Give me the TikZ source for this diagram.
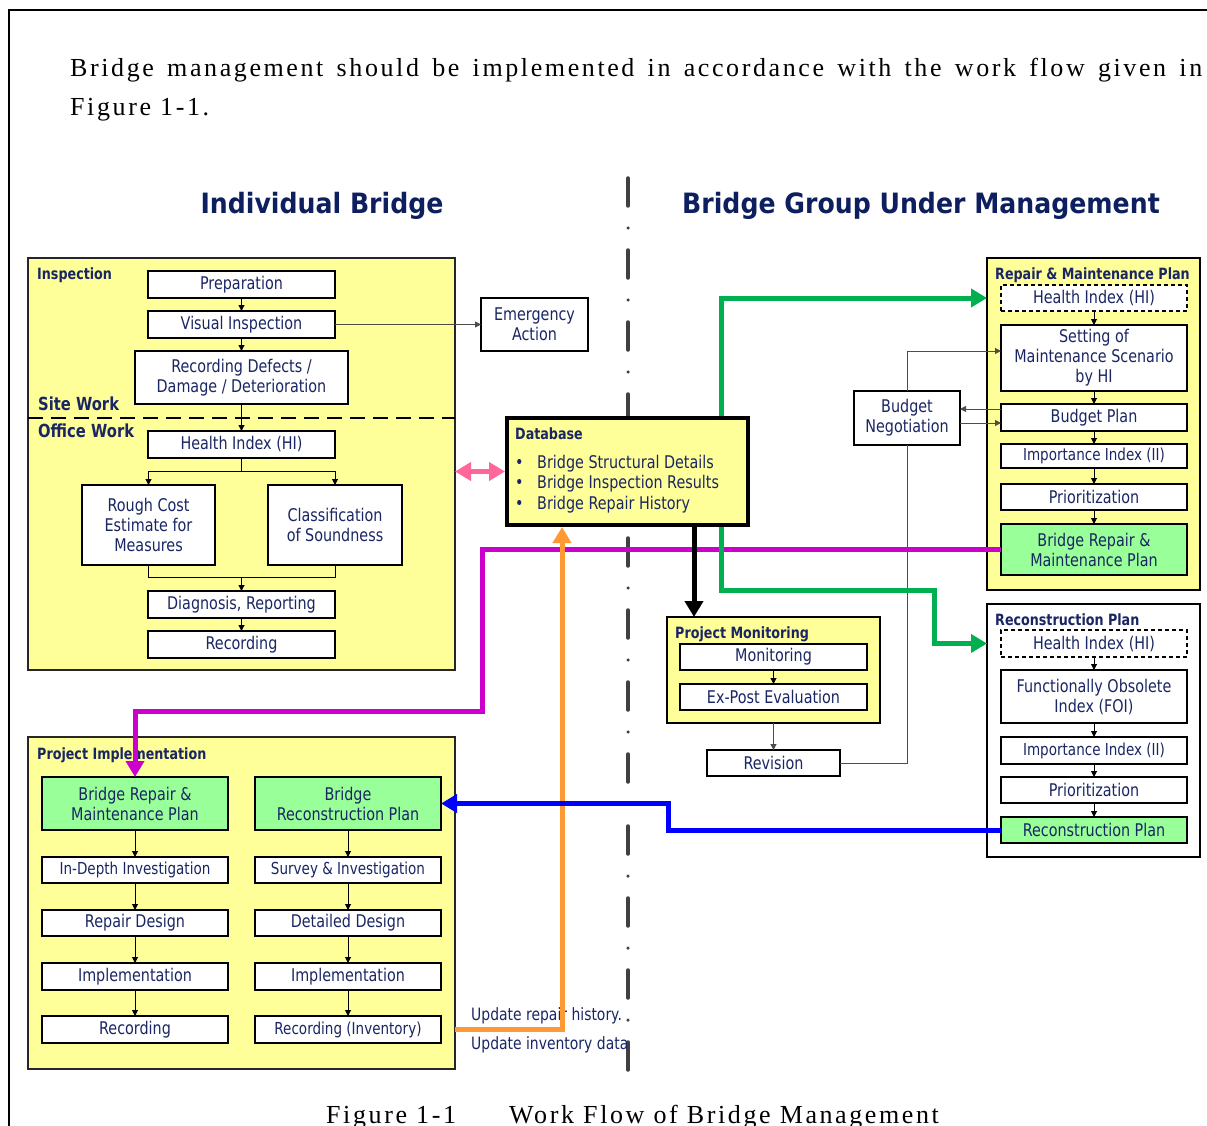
\documentclass[tikz,border=0pt]{standalone}
\usepackage{fontspec}
\setmainfont{DejaVu Sans}[FakeStretch=0.82]
\newfontfamily\capfont{Liberation Serif}[LetterSpace=10]
\newfontfamily\headfont{DejaVu Sans}[FakeStretch=0.9]
\usetikzlibrary{arrows.meta,calc}
\definecolor{navy}{HTML}{1A2664}
\definecolor{titlenavy}{HTML}{0D1F5F}
\definecolor{yellowfill}{HTML}{FFFF99}
\definecolor{greenfill}{HTML}{99FF99}
\definecolor{flowgreen}{HTML}{00B050}
\definecolor{flowmagenta}{HTML}{CC00CC}
\definecolor{floworange}{HTML}{FF9933}
\definecolor{flowpink}{HTML}{FF6699}
\definecolor{flowblue}{HTML}{0000FF}
\definecolor{axisgray}{HTML}{404040}

\begin{document}
\begin{tikzpicture}[x=1pt,y=-1pt,
  box/.style={draw=black,line width=1.2pt,fill=white,text=navy,align=center,
    inner sep=0pt,outer sep=0pt,font=\fontsize{17.5}{20}\selectfont},
  sbox/.style={box,font=\fontsize{16.5}{19}\selectfont},
  gbox/.style={box,fill=greenfill},
  dbox/.style={box,dash pattern=on 4pt off 3pt},
  block/.style={draw=black!85,line width=1.5pt,fill=yellowfill,inner sep=0pt,outer sep=0pt},
  blabel/.style={anchor=base west,inner sep=0pt,text=navy,font=\fontsize{15.5}{17}\selectfont\bfseries},
  wlabel/.style={blabel,font=\fontsize{18}{20}\selectfont\bfseries},
  title/.style={anchor=base,inner sep=0pt,text=titlenavy,font=\headfont\bfseries\fontsize{28}{31}\selectfont},
  serif/.style={anchor=base west,inner sep=0pt,font=\capfont\fontsize{26}{30}\selectfont},
  note/.style={anchor=base west,inner sep=0pt,text=navy,font=\fontsize{17}{19}\selectfont},
  arr/.style={line width=1pt,-{Triangle[length=6pt,width=6pt]}},
  tline/.style={draw=black!70,line width=1pt},
  tarr/.style={tline,-{Triangle[length=6pt,width=6pt]}},
  heavy/.style={line width=5pt,-{Triangle[length=16pt,width=18pt]}},
  axis/.style={draw=axisgray,line width=3.5pt,line cap=round,
    dash pattern=on 28pt off 22pt on 0pt off 22pt}
]
\useasboundingbox (0,0) rectangle (1207,1126);

% page frame
\draw[line width=2pt] (9,1126) -- (9,10) -- (1207,10);

% running text
\node[serif] (par1) at (70,77) {\makebox[1132pt][s]{Bridge management should be implemented in accordance with the work flow given in}};
\node[serif] (par2) at (70,116) {Figure 1-1.};

% column headings and divider
\node[title] (hleft) at (322,214) {Individual Bridge};
\node[title] (hright) at (921,214) {Bridge Group Under Management};
\draw[axis] (628,178) -- (628,1073);

% ---------- Inspection ----------
\node[block,minimum width=427pt,minimum height=412pt] (iblk) at (241.5,464) {};
\node[blabel] (linsp) at (37,279) {Inspection};
\coordinate (sitey) at (0,418);
\draw[line width=2pt,dash pattern=on 15pt off 8pt] (iblk.west |- sitey) -- (iblk.east |- sitey);
\node[wlabel] (lsite) at (38,410) {Site Work};
\node[wlabel] (loffice) at (38,437) {Office Work};

\node[box,minimum width=187pt,minimum height=27pt] (prep) at (241.5,284.5) {Preparation};
\node[box,minimum width=187pt,minimum height=27pt] (vis) at (241.5,324.5) {Visual Inspection};
\node[box,minimum width=213pt,minimum height=53pt] (rec) at (241.5,377.5) {Recording Defects /\\Damage / Deterioration};
\node[box,minimum width=187pt,minimum height=27pt] (hi) at (241.5,444.5) {Health Index (HI)};
\node[box,minimum width=133pt,minimum height=80pt] (rough) at (148.5,525) {Rough Cost\\Estimate for\\Measures};
\node[box,minimum width=134pt,minimum height=80pt] (cls) at (335,525) {Classification\\of Soundness};
\node[box,minimum width=187pt,minimum height=27pt] (diag) at (241.5,604.5) {Diagnosis, Reporting};
\node[box,minimum width=187pt,minimum height=27pt] (recd) at (241.5,644.5) {Recording};

\node[box,minimum width=107pt,minimum height=53pt] (em) at (534.5,324.5) {Emergency\\Action};

\draw[arr] (prep) -- (vis);
\draw[arr] (vis) -- (rec);
\draw[arr] (rec) -- (hi);
\draw[arr] (hi.south) -- ++(0,13) -| (rough.north);
\draw[arr] (hi.south) -- ++(0,13) -| (cls.north);
\draw[line width=1pt] (rough.south) -- ++(0,12) -| (cls.south);
\coordinate (merge) at ($(rough.south)+(0,12)$);
\draw[arr] (diag.north |- merge) -- (diag.north);
\draw[arr] (diag) -- (recd);
\draw[tarr] (vis) -- (em);

% ---------- Project Implementation ----------
\node[block,minimum width=427pt,minimum height=332pt] (pblk) at (241.5,903) {};
\node[blabel] (limpl) at (37,759) {Project Implementation};

\node[gbox,minimum width=186pt,minimum height=53pt] (ibrm) at (135,803.5) {Bridge Repair \&\\Maintenance Plan};
\node[sbox,minimum width=186pt,minimum height=26pt] (idep) at (135,870) {In-Depth Investigation};
\node[box,minimum width=186pt,minimum height=26pt] (irdes) at (135,923) {Repair Design};
\node[box,minimum width=186pt,minimum height=27pt] (iimp1) at (135,976.5) {Implementation};
\node[box,minimum width=186pt,minimum height=27pt] (irec1) at (135,1029.5) {Recording};

\node[gbox,minimum width=186pt,minimum height=53pt] (ibrc) at (348,803.5) {Bridge\\Reconstruction Plan};
\node[sbox,minimum width=186pt,minimum height=26pt] (isur) at (348,870) {Survey \& Investigation};
\node[box,minimum width=186pt,minimum height=26pt] (iddes) at (348,923) {Detailed Design};
\node[box,minimum width=186pt,minimum height=27pt] (iimp2) at (348,976.5) {Implementation};
\node[sbox,minimum width=186pt,minimum height=27pt] (irec2) at (348,1029.5) {Recording (Inventory)};

\draw[arr] (ibrm) -- (idep);
\draw[arr] (idep) -- (irdes);
\draw[arr] (irdes) -- (iimp1);
\draw[arr] (iimp1) -- (irec1);
\draw[arr] (ibrc) -- (isur);
\draw[arr] (isur) -- (iddes);
\draw[arr] (iddes) -- (iimp2);
\draw[arr] (iimp2) -- (irec2);

\node[note] (upd1) at (471,1020) {Update repair history.};
\node[note] (upd2) at (471,1049) {Update inventory data};

% ---------- Project Monitoring ----------
\node[block,draw=black,minimum width=213pt,minimum height=106pt] (pm) at (773.5,670) {};
\node[blabel] (lpm) at (675,638) {Project Monitoring};
\node[box,minimum width=187pt,minimum height=26pt] (mon) at (773.5,657) {Monitoring};
\node[box,minimum width=187pt,minimum height=26pt] (expost) at (773.5,697) {Ex-Post Evaluation};
\node[box,minimum width=133pt,minimum height=26pt] (rev) at (773.5,763) {Revision};
\draw[arr] (mon) -- (expost);
\draw[tarr] (pm) -- (rev);

% ---------- Repair & Maintenance Plan ----------
\node[block,draw=black,minimum width=213pt,minimum height=332pt] (rblk) at (1093.5,424) {};
\node[blabel] (lrep) at (995,279) {Repair \& Maintenance Plan};
\node[dbox,minimum width=186pt,minimum height=26pt] (rhi) at (1094,298) {Health Index (HI)};
\node[box,minimum width=186pt,minimum height=66pt] (set) at (1094,358) {Setting of\\Maintenance Scenario\\by HI};
\node[box,minimum width=186pt,minimum height=27pt] (bud) at (1094,417.5) {Budget Plan};
\node[sbox,minimum width=186pt,minimum height=24pt] (rii) at (1094,456) {Importance Index (II)};
\node[box,minimum width=186pt,minimum height=26pt] (rpri) at (1094,497) {Prioritization};
\node[gbox,minimum width=186pt,minimum height=51pt] (rbrm) at (1094,549.5) {Bridge Repair \&\\Maintenance Plan};
\draw[arr] (rhi) -- (set);
\draw[arr] (set) -- (bud);
\draw[arr] (bud) -- (rii);
\draw[arr] (rii) -- (rpri);
\draw[arr] (rpri) -- (rbrm);

\node[box,minimum width=106pt,minimum height=54pt] (bn) at (907,418) {Budget\\Negotiation};
\draw[tarr] (bn.north) |- ([yshift=7pt]set.west);
\coordinate (bu1) at ([yshift=8.5pt]bud.west);
\coordinate (bu2) at ([yshift=-5.5pt]bud.west);
\draw[tarr] (bu1) -- (bu1 -| bn.east);
\draw[tarr] (bu2 -| bn.east) -- (bu2);
\draw[tline] (rev.east) -| (bn.south);

% ---------- Reconstruction Plan ----------
\node[block,draw=black,fill=white,minimum width=213pt,minimum height=253pt] (cblk) at (1093.5,730.5) {};
\node[blabel] (lrcn) at (995,625) {Reconstruction Plan};
\node[dbox,minimum width=186pt,minimum height=27pt] (chi) at (1094,643.5) {Health Index (HI)};
\node[box,minimum width=186pt,minimum height=53pt] (foi) at (1094,696.5) {Functionally Obsolete\\Index (FOI)};
\node[sbox,minimum width=186pt,minimum height=27pt] (cii) at (1094,750.5) {Importance Index (II)};
\node[box,minimum width=186pt,minimum height=26pt] (cpri) at (1094,790) {Prioritization};
\node[gbox,minimum width=186pt,minimum height=26pt] (crp) at (1094,830) {Reconstruction Plan};
\draw[arr] (chi) -- (foi);
\draw[arr] (foi) -- (cii);
\draw[arr] (cii) -- (cpri);
\draw[arr] (cpri) -- (crp);

% ---------- Database ----------
\node[draw=black,line width=4pt,fill=yellowfill,minimum width=241pt,minimum height=107pt,inner sep=0pt] (db) at (627.5,471.5) {};
\node[blabel] (ldb) at (515,439) {Database};
\node[anchor=base west,inner sep=0pt,text=navy,font=\fontsize{17.5}{20.7}\selectfont,align=left] (dbitems) at (515,468)
  {\begin{tabular}[t]{@{}l@{\hspace{13.5pt}}l@{}}
   \textbullet & Bridge Structural Details\\
   \textbullet & Bridge Inspection Results\\
   \textbullet & Bridge Repair History
   \end{tabular}};

% ---------- heavy flows ----------
\coordinate (mcorner) at (482,711);
\draw[heavy,flowmagenta] (rbrm.west) -| (mcorner) -| (ibrm.north);

\draw[line width=5pt,flowpink,{Triangle[length=16pt,width=18pt]}-{Triangle[length=16pt,width=18pt]}]
  (iblk.east |- db.west) -- (db.west);

\coordinate (gx) at (721,0);
\draw[heavy,flowgreen] (db.north -| gx) |- (rblk.west |- rhi);
\coordinate (gbend) at (934,590);
\draw[heavy,flowgreen] (db.south -| gx) |- (gbend) |- (cblk.west |- chi);

\coordinate (kx) at (694,0);
\draw[heavy,black] (db.south -| kx) -- (pm.north -| kx);

\coordinate (ox) at (562,0);
\draw[heavy,floworange] (pblk.east |- irec2) -| (db.south -| ox);

\coordinate (bx) at (668,0);
\draw[heavy,flowblue] (crp.west) -| (bx |- ibrc) -- (ibrc.east);

% caption
\node[serif] (cap1) at (326,1123) {Figure 1-1};
\node[serif] (cap2) at (509,1123) {Work Flow of Bridge Management};
\end{tikzpicture}
\end{document}
